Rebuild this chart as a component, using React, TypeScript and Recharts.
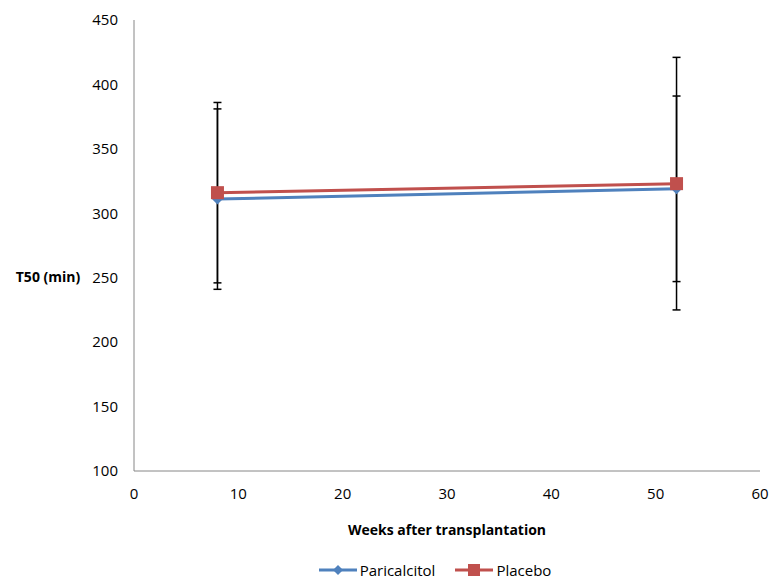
import React from "react";
import { LineChart, Line, XAxis, YAxis, ErrorBar, Legend, Label } from "recharts";

const weeks = [8, 52];
const paricalcitol = [311, 319];
const paricalcitolErr = [70, 72];
const placebo = [316, 323];
const placeboErr = [70, 98];

const xTicks = [0, 10, 20, 30, 40, 50, 60];
const yTicks = [100, 150, 200, 250, 300, 350, 400, 450];

const BLUE = "#4F81BD";
const RED = "#C0504D";
const AXIS = "#868686";
const FONT = "'Open Sans', sans-serif";

const data = weeks.map((w, i) => ({
  week: w,
  paricalcitol: paricalcitol[i],
  paricalcitolErr: paricalcitolErr[i],
  placebo: placebo[i],
  placeboErr: placeboErr[i],
}));

const Diamond = (props: any) => {
  const { cx, cy } = props;
  if (cx == null || cy == null) return null;
  const r = 5.5;
  return <polygon points={`${cx},${cy - r} ${cx + r},${cy} ${cx},${cy + r} ${cx - r},${cy}`} fill={BLUE} stroke="none" />;
};

const Square = (props: any) => {
  const { cx, cy } = props;
  if (cx == null || cy == null) return null;
  const s = 13;
  return <rect x={cx - s / 2} y={cy - s / 2} width={s} height={s} fill={RED} stroke="none" />;
};

const legendItems = [
  { name: "Paricalcitol", color: BLUE, shape: "diamond" },
  { name: "Placebo", color: RED, shape: "square" },
];

const renderLegend = () => (
  <div style={{ display: "flex", justifyContent: "center", paddingLeft: 110, fontFamily: FONT, fontSize: 15, color: "#000" }}>
    {legendItems.map((it, i) => (
      <div key={it.name} style={{ display: "flex", alignItems: "center", marginLeft: i ? 20 : 0 }}>
        <svg width={38} height={14}>
          <line x1={0} y1={7} x2={38} y2={7} stroke={it.color} strokeWidth={3} />
          {it.shape === "diamond" ? (
            <polygon points="19,2 24,7 19,12 14,7" fill={it.color} />
          ) : (
            <rect x={13} y={1} width={12} height={12} fill={it.color} />
          )}
        </svg>
        <span style={{ marginLeft: 3 }}>{it.name}</span>
      </div>
    ))}
  </div>
);

export default function App() {
  return (
    <div style={{ position: "absolute", left: 0, top: 0, background: "#fff" }}>
      <LineChart width={771} height={580} data={data} margin={{ top: 20, right: 11, left: 0, bottom: 0 }}>
        <XAxis
          dataKey="week"
          type="number"
          domain={[0, 60]}
          ticks={xTicks}
          tickLine={false}
          tickSize={0}
          tickMargin={17}
          height={89}
          stroke={AXIS}
          tick={{ fill: "#000", fontSize: 15, fontFamily: FONT }}
        >
          <Label
            content={(p: any) => {
              const vb = p.viewBox;
              return (
                <text x={vb.x + vb.width / 2} y={vb.y + 64} textAnchor="middle" fontFamily={FONT} fontSize={14} fontWeight="bold" fill="#000">
                  Weeks after transplantation
                </text>
              );
            }}
          />
        </XAxis>
        <YAxis
          type="number"
          domain={[100, 450]}
          ticks={yTicks}
          tickLine={false}
          tickSize={0}
          tickMargin={16}
          width={134}
          stroke={AXIS}
          tick={{ fill: "#000", fontSize: 15, fontFamily: FONT }}
        >
          <Label
            content={(p: any) => {
              const vb = p.viewBox;
              return (
                <text x={48} y={vb.y + vb.height / 2 + 36} textAnchor="middle" fontFamily={FONT} fontSize={14} fontWeight="bold" fill="#000">
                  T50 (min)
                </text>
              );
            }}
          />
        </YAxis>
        <Legend verticalAlign="bottom" content={renderLegend} wrapperStyle={{ height: 20 }} />
        <Line
          dataKey="paricalcitol"
          name="Paricalcitol"
          stroke={BLUE}
          strokeWidth={3}
          dot={<Diamond />}
          activeDot={false}
          isAnimationActive={false}
        >
          <ErrorBar dataKey="paricalcitolErr" width={4} stroke="#000" strokeWidth={1.5} direction="y" isAnimationActive={false} />
        </Line>
        <Line
          dataKey="placebo"
          name="Placebo"
          stroke={RED}
          strokeWidth={3}
          dot={<Square />}
          activeDot={false}
          isAnimationActive={false}
        >
          <ErrorBar dataKey="placeboErr" width={4} stroke="#000" strokeWidth={1.5} direction="y" isAnimationActive={false} />
        </Line>
      </LineChart>
    </div>
  );
}
